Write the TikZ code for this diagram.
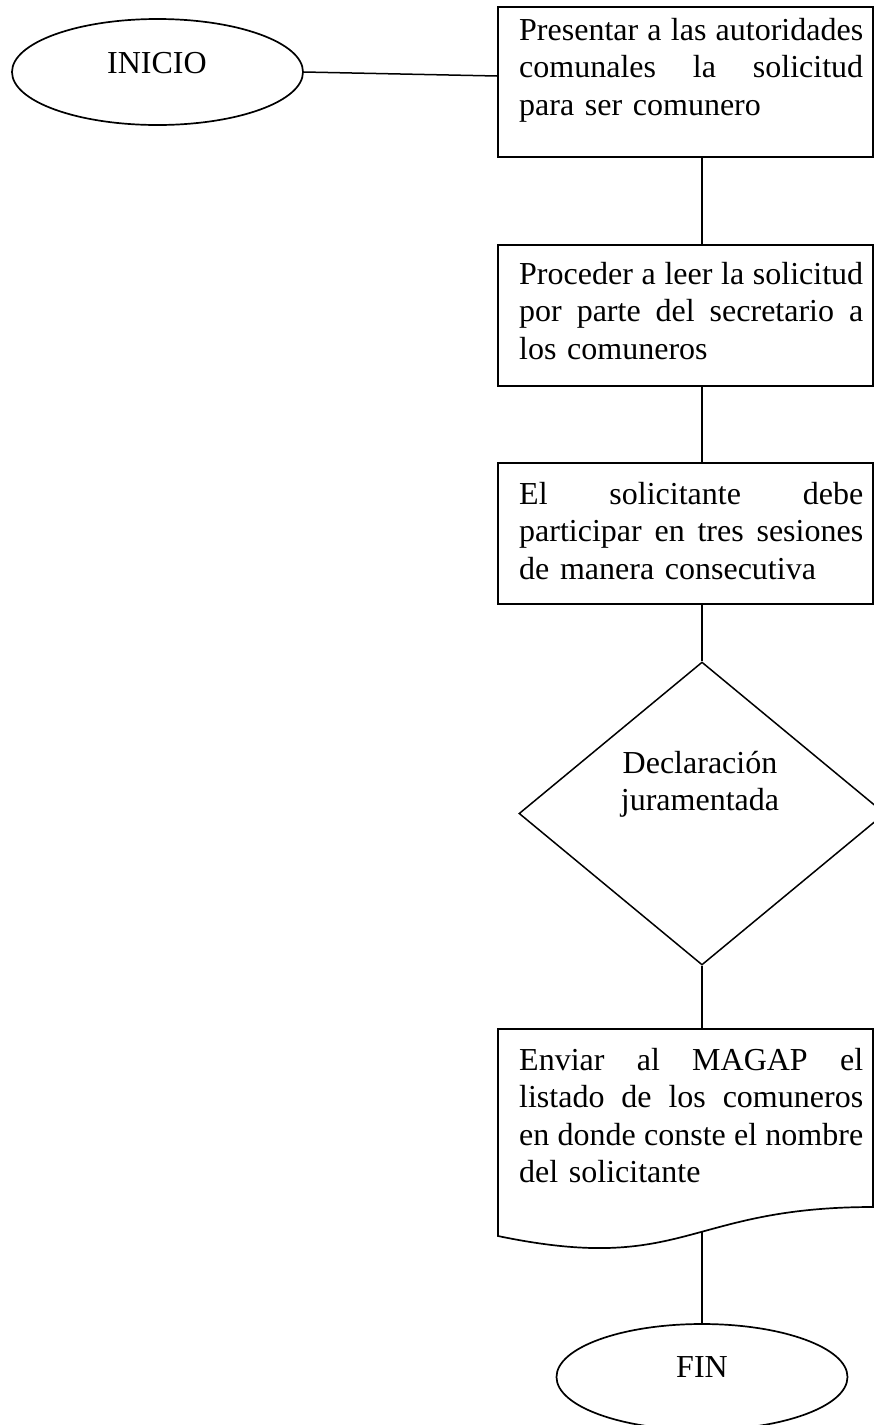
\documentclass[tikz,border=0pt]{standalone}
\usepackage{fontspec}
\setmainfont{Liberation Serif}
\usetikzlibrary{shapes.geometric,calc}
\newcommand\jline[1]{\leavevmode\hbox to 344pt{#1}}
\begin{document}
\begin{tikzpicture}[x=1pt,y=-1pt,
  shapeline/.style={draw=black, line width=1.7pt},
  box/.style={shapeline, rectangle, minimum width=375pt, inner sep=0pt},
  conn/.style={draw=black, line width=1.5pt},
  txt/.style={inner sep=0pt, font=\fontsize{32}{37.5}\selectfont, align=left, text width=344pt},
  term/.style={shapeline, ellipse, minimum width=291pt, minimum height=106pt, inner sep=0pt},
  lbl/.style={inner sep=0pt, font=\fontsize{32}{37.5}\selectfont, align=center}
]
\useasboundingbox (0,0) rectangle (874,1425);
\fill[white] (0,0) rectangle (874,1425);

% start
\node[term] (s) at (157.5,72) {};
\node[lbl, anchor=base] (st) at (157,73) {INICIO};

% box 1
\node[box, minimum height=150pt] (b1) at (685.5,82) {};
\node[txt, anchor=north west] (t1) at (519,18) {\jline{Presentar\hfill a\hfill las\hfill autoridades}\\\jline{comunales\hfill la\hfill solicitud}\\para ser comunero};

% box 2
\node[box, minimum height=141pt] (b2) at (685.5,315.5) {};
\node[txt, anchor=north west] (t2) at (519,262) {\jline{Proceder\hfill a\hfill leer\hfill la\hfill solicitud}\\\jline{por\hfill parte\hfill del\hfill secretario\hfill a}\\los comuneros};

% box 3
\node[box, minimum height=141pt] (b3) at (685.5,533.5) {};
\node[txt, anchor=north west] (t3) at (519,482) {\jline{El\hfill solicitante\hfill debe}\\\jline{participar\hfill en\hfill tres\hfill sesiones}\\de manera consecutiva};

% decision
\node[diamond, draw=black, line width=1.5pt, minimum width=366pt, minimum height=303pt, inner sep=0pt] (d) at (702,813.5) {};
\node[lbl, anchor=north] (dt) at (700,751) {Declaración\\juramentada};

% document shape
\coordinate (doctop) at (702,1029);
\coordinate (docbot) at (702,1232);
\draw[shapeline, line join=miter] (873,1207) -- (873,1029) -- (498,1029) -- (498,1236)
  .. controls (685.5,1275) and (685.5,1207) .. (873,1207) -- cycle;
\node[txt, anchor=north west] (t4) at (519,1048) {\jline{Enviar\hfill al\hfill MAGAP\hfill el}\\\jline{listado\hfill de\hfill los\hfill comuneros}\\\jline{en\hfill donde\hfill conste\hfill el\hfill nombre}\\del solicitante};

% end
\node[term] (f) at (702,1377) {};
\node[lbl, anchor=base] (ft) at (702,1377) {FIN};

% connectors
\draw[conn] (s.east) -- ([yshift=6pt]b1.west);
\draw[conn] (b1.south -| d.north) -- (b2.north -| d.north);
\draw[conn] (b2.south -| d.north) -- (b3.north -| d.north);
\draw[conn] (b3.south -| d.north) -- (d.north);
\draw[conn] (d.south) -- (doctop);
\draw[conn] (docbot) -- (f.north);
\end{tikzpicture}
\end{document}
